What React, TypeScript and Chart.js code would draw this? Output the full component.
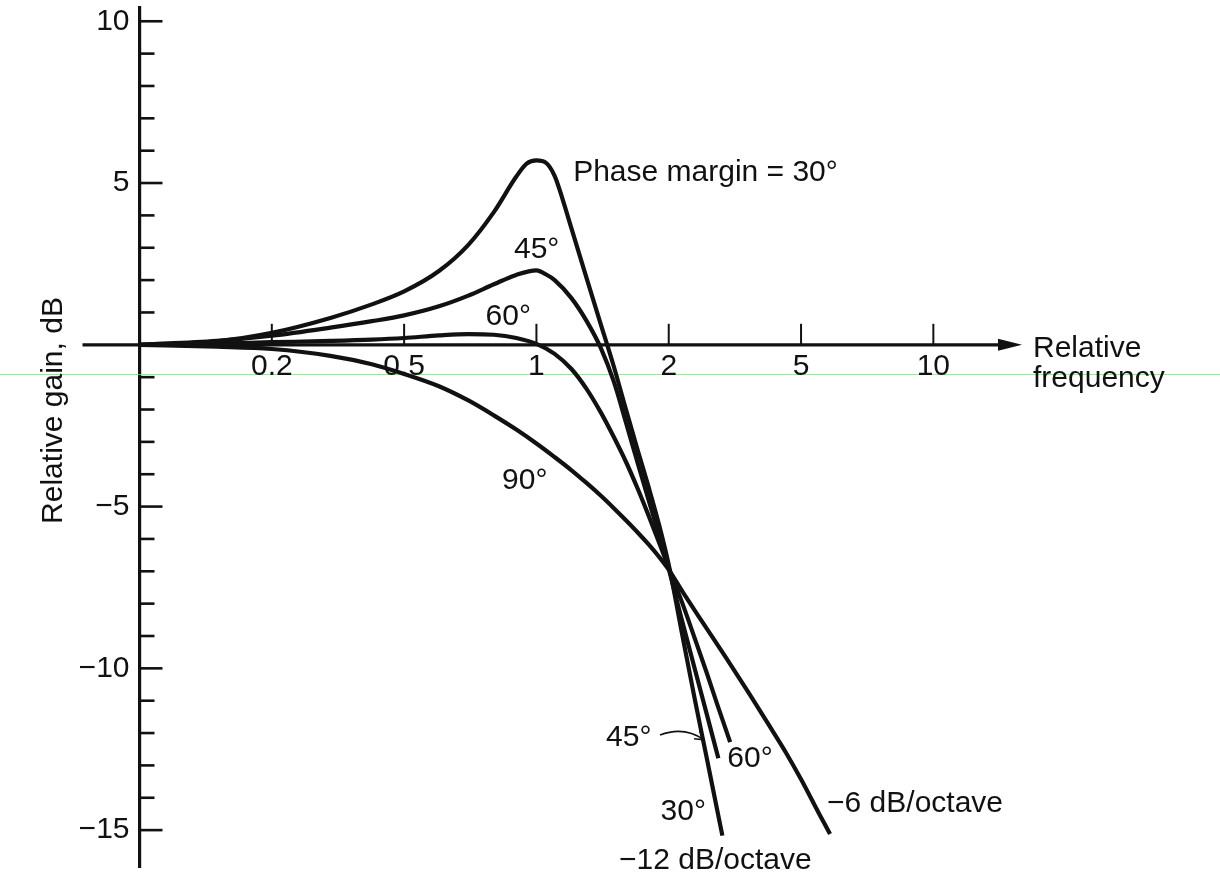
import { useEffect, useRef } from "react";
import { Chart, registerables } from "chart.js";

Chart.register(...registerables);

// Frequency axis uses a 1-2-5 stepped layout: every step gets the same width.
const AXIS_STEPS = [0.1, 0.2, 0.5, 1, 2, 5, 10];
const FREQ_TICKS = [0.2, 0.5, 1, 2, 5, 10];
const FREQ_TICK_LABELS = ["0.2", "0.5", "1", "2", "5", "10"];
const FREQ_AXIS_END = 6.67; // in step units, where the arrow tip sits

const GAIN_MIN = -16.14;
const GAIN_MAX = 10.41;
const GAIN_LABELS: Record<string, string> = {
  "10": "10",
  "5": "5",
  "-5": "\u22125",
  "-10": "\u221210",
  "-15": "\u221215",
};

// Closed-loop gain curves for several phase margins
const FREQ_30 = [0.1, 0.15, 0.2, 0.3, 0.4, 0.5, 0.6, 0.7, 0.8, 0.9, 0.95, 1.0, 1.05, 1.1, 1.15, 1.2, 1.3, 1.4, 1.5, 1.6, 1.7, 1.8, 1.9, 2.0, 2.2, 2.4, 2.6, 2.8, 2.9];
const GAIN_30 = [0, 0.11, 0.37, 0.83, 1.25, 1.65, 2.28, 3.09, 4.1, 5.2, 5.6, 5.7, 5.63, 5.22, 4.45, 3.62, 2.07, 0.65, -0.67, -2.02, -3.26, -4.4, -5.55, -6.8, -9.0, -11.0, -12.75, -14.4, -15.17];

const FREQ_45 = [0.1, 0.15, 0.2, 0.3, 0.4, 0.5, 0.6, 0.7, 0.8, 0.9, 1.0, 1.05, 1.1, 1.2, 1.3, 1.4, 1.5, 1.6, 1.7, 1.8, 1.9, 2.0, 2.2, 2.4, 2.6, 2.82];
const GAIN_45 = [0, 0.12, 0.28, 0.53, 0.73, 0.91, 1.19, 1.52, 1.87, 2.16, 2.3, 2.18, 2.0, 1.45, 0.74, -0.09, -1.14, -2.42, -3.66, -4.8, -5.87, -6.93, -8.58, -10.05, -11.4, -12.78];

const FREQ_60 = [0.1, 0.15, 0.2, 0.3, 0.4, 0.5, 0.6, 0.7, 0.8, 0.9, 1.0, 1.1, 1.2, 1.3, 1.4, 1.5, 1.6, 1.7, 1.8, 1.9, 2.0, 2.2, 2.4, 2.6, 2.8, 3.06];
const GAIN_60 = [0, 0.04, 0.08, 0.12, 0.16, 0.21, 0.29, 0.33, 0.31, 0.21, 0.03, -0.28, -0.74, -1.36, -2.08, -2.85, -3.63, -4.45, -5.28, -6.1, -6.9, -8.0, -9.1, -10.13, -11.12, -12.28];

const FREQ_90 = [0.1, 0.15, 0.2, 0.3, 0.4, 0.5, 0.6, 0.7, 0.8, 0.9, 1.0, 1.1, 1.2, 1.3, 1.4, 1.5, 1.6, 1.7, 1.8, 1.9, 2.0, 2.2, 2.5, 3.0, 3.5, 4.0, 4.5, 5.0, 5.5, 5.82];
const GAIN_90 = [0, -0.06, -0.13, -0.34, -0.6, -0.9, -1.28, -1.72, -2.18, -2.62, -3.05, -3.47, -3.87, -4.27, -4.66, -5.05, -5.43, -5.8, -6.17, -6.55, -6.95, -7.63, -8.5, -9.73, -10.8, -11.75, -12.6, -13.43, -14.5, -15.12];

const SERIES = [
  { name: "30°", freq: FREQ_30, gain: GAIN_30 },
  { name: "45°", freq: FREQ_45, gain: GAIN_45 },
  { name: "60°", freq: FREQ_60, gain: GAIN_60 },
  { name: "90°", freq: FREQ_90, gain: GAIN_90 },
];

// Curve labels: text, anchor frequency, anchor gain (left edge, baseline)
const NOTE_TEXT = ["Phase margin = 30°", "45°", "60°", "90°", "45°", "60°", "30°", "\u221212 dB/octave", "\u22126 dB/octave"];
const NOTE_FREQ = [1.212, 0.889, 0.766, 0.835, 1.44, 3.0, 1.916, 1.541, 5.73];
const NOTE_GAIN = [5.07, 2.69, 0.62, -4.45, -12.39, -13.06, -14.7, -16.2, -14.44];

// Curved pointer from the lower "45°" label to its curve: start, bend, tip
const POINTER_FREQ = [1.911, 2.224, 2.554];
const POINTER_GAIN = [-12.06, -11.78, -12.21];

const INK = "#111111";
const FONT_FAMILY = '"Liberation Sans", Arial, Helvetica, sans-serif';
const FONT = `30px ${FONT_FAMILY}`;

function freqToPos(f: number): number {
  let i = 0;
  while (i < AXIS_STEPS.length - 2 && f > AXIS_STEPS[i + 1]) i++;
  const a = AXIS_STEPS[i];
  const b = AXIS_STEPS[i + 1];
  return i + Math.log(f / a) / Math.log(b / a);
}

const decorPlugin = {
  id: "bodeDecor",
  beforeDatasetsDraw(chart: any) {
    const { ctx, chartArea, scales } = chart;
    const xs = scales.x;
    const ys = scales.y;
    const y0 = ys.getPixelForValue(0);
    const left = chartArea.left;
    const tip = xs.getPixelForValue(FREQ_AXIS_END);
    ctx.save();

    // light rule across the figure
    ctx.strokeStyle = "rgba(140, 215, 140, 0.8)";
    ctx.lineWidth = 1;
    ctx.beginPath();
    ctx.moveTo(0, Math.round(y0 + 29) + 0.5);
    ctx.lineTo(chart.width, Math.round(y0 + 29) + 0.5);
    ctx.stroke();

    // frequency axis with arrow head
    ctx.strokeStyle = INK;
    ctx.fillStyle = INK;
    ctx.lineWidth = 3.2;
    ctx.beginPath();
    ctx.moveTo(left - 57, y0);
    ctx.lineTo(tip - 16, y0);
    ctx.stroke();
    ctx.beginPath();
    ctx.moveTo(tip, y0);
    ctx.lineTo(tip - 24, y0 - 6);
    ctx.lineTo(tip - 24, y0 + 6);
    ctx.closePath();
    ctx.fill();

    // frequency tick marks and labels
    ctx.lineWidth = 2;
    ctx.font = FONT;
    ctx.textAlign = "center";
    ctx.textBaseline = "alphabetic";
    FREQ_TICKS.forEach((f, i) => {
      const px = xs.getPixelForValue(freqToPos(f));
      ctx.beginPath();
      ctx.moveTo(px, y0);
      ctx.lineTo(px, y0 - 21);
      ctx.stroke();
      ctx.fillText(FREQ_TICK_LABELS[i], px, y0 + 30);
    });

    // gain tick marks, drawn on the inner side of the axis
    ctx.lineWidth = 2.6;
    ys.ticks.forEach((t: any) => {
      const v = t.value;
      if (v < -15 || v > 10 || v === 0) return;
      const py = ys.getPixelForValue(v);
      const len = v % 5 === 0 ? 23 : 15;
      ctx.beginPath();
      ctx.moveTo(left, py);
      ctx.lineTo(left + len, py);
      ctx.stroke();
    });
    ctx.restore();
  },
  afterDraw(chart: any) {
    const { ctx, chartArea, scales } = chart;
    const xs = scales.x;
    const ys = scales.y;
    const y0 = ys.getPixelForValue(0);
    const tip = xs.getPixelForValue(FREQ_AXIS_END);
    ctx.save();
    ctx.fillStyle = INK;
    ctx.strokeStyle = INK;
    ctx.font = FONT;
    ctx.textAlign = "left";
    ctx.textBaseline = "alphabetic";

    // axis titles
    ctx.fillText("Relative", tip + 11, y0 + 12);
    ctx.fillText("frequency", tip + 11, y0 + 42);
    ctx.save();
    ctx.translate(chartArea.left - 77.5, chartArea.top + 402.5);
    ctx.rotate(-Math.PI / 2);
    ctx.textAlign = "center";
    ctx.fillText("Relative gain, dB", 0, 0);
    ctx.restore();

    // curve labels
    NOTE_TEXT.forEach((txt, i) => {
      ctx.fillText(txt, xs.getPixelForValue(freqToPos(NOTE_FREQ[i])), ys.getPixelForValue(NOTE_GAIN[i]));
    });

    // curved pointer with open arrow head
    const pts = POINTER_FREQ.map((f, i) => [xs.getPixelForValue(freqToPos(f)), ys.getPixelForValue(POINTER_GAIN[i])]);
    ctx.lineWidth = 1.6;
    ctx.beginPath();
    ctx.moveTo(pts[0][0], pts[0][1]);
    ctx.quadraticCurveTo(pts[1][0], pts[1][1], pts[2][0], pts[2][1]);
    ctx.stroke();
    const ang = Math.atan2(pts[2][1] - pts[1][1], pts[2][0] - pts[1][0]);
    ctx.beginPath();
    ctx.moveTo(pts[2][0] - 10 * Math.cos(ang - 0.5), pts[2][1] - 10 * Math.sin(ang - 0.5));
    ctx.lineTo(pts[2][0], pts[2][1]);
    ctx.lineTo(pts[2][0] - 10 * Math.cos(ang + 0.5), pts[2][1] - 10 * Math.sin(ang + 0.5));
    ctx.stroke();
    ctx.restore();
  },
};

export default function App() {
  const canvasRef = useRef<HTMLCanvasElement | null>(null);

  useEffect(() => {
    const canvas = canvasRef.current;
    if (!canvas) return;
    Chart.defaults.font.family = FONT_FAMILY;

    const chart = new Chart(canvas, {
      type: "line",
      data: {
        datasets: SERIES.map((s) => ({
          label: s.name,
          data: s.freq.map((f, i) => ({ x: freqToPos(f), y: s.gain[i] })),
          borderColor: INK,
          backgroundColor: INK,
          borderWidth: 4.2,
          pointRadius: 0,
          fill: false,
          cubicInterpolationMode: "monotone" as const,
        })),
      },
      options: {
        animation: false,
        responsive: false,
        devicePixelRatio: 1,
        layout: { padding: { left: 0, right: 198, top: 8, bottom: 8 } },
        plugins: {
          legend: { display: false },
          tooltip: { enabled: false },
        },
        scales: {
          x: {
            type: "linear",
            display: false,
            min: 0,
            max: FREQ_AXIS_END,
          },
          y: {
            type: "linear",
            position: "left",
            min: GAIN_MIN,
            max: GAIN_MAX,
            afterFit: (scale: any) => {
              scale.width = 139.5;
              scale.paddingTop = 0;
              scale.paddingBottom = 0;
            },
            border: { display: true, color: INK, width: 3.2 },
            grid: { display: false, drawTicks: false },
            ticks: {
              stepSize: 1,
              includeBounds: false,
              autoSkip: false,
              padding: 10,
              color: INK,
              font: { family: FONT_FAMILY, size: 30 },
              callback: (v: any) => GAIN_LABELS[String(v)] ?? "",
            },
          },
        },
      },
      plugins: [decorPlugin],
    });

    return () => chart.destroy();
  }, []);

  return (
    <div style={{ position: "absolute", left: 0, top: 0, width: 1220, height: 875, background: "#ffffff" }}>
      <canvas ref={canvasRef} width={1220} height={875} style={{ display: "block" }} />
    </div>
  );
}
